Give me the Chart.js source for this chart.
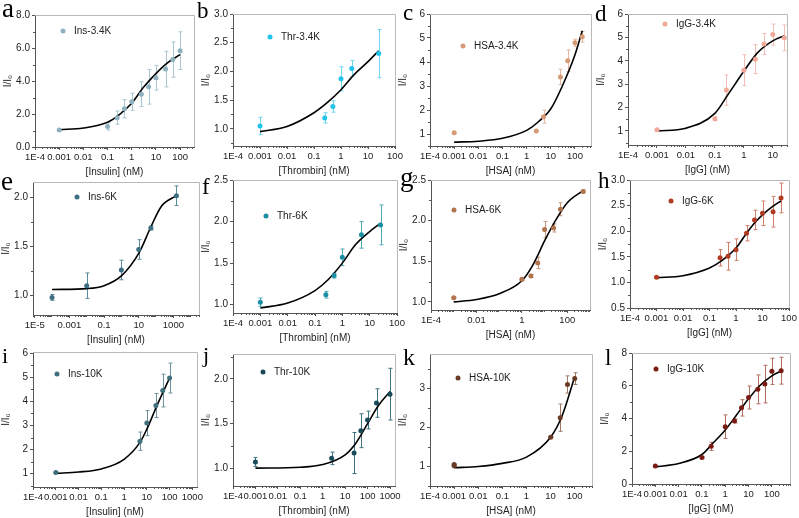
<!DOCTYPE html>
<html>
<head>
<meta charset="utf-8">
<script src="https://cdn.jsdelivr.net/npm/chart.js@4.4.1/dist/chart.umd.min.js"></script>
<style>
  body { margin: 0; background: #fff; width: 799px; height: 518px; position: relative; overflow: hidden; }
  canvas { position: absolute; }
  .tag { position: absolute; font-family: "Liberation Serif", "Times New Roman", serif; line-height: 1; color: #000; }
</style>
</head>
<body>
<script>
// ---- tick labels ----
const xTicksStd = [1e-4, 1e-3, 1e-2, 0.1, 1, 10, 100];
const xLabelsStd = ['1E-4', '0.001', '0.01', '0.1', '1', '10', '100'];
const xTicksWide = [1e-4, 1e-3, 1e-2, 0.1, 1, 10, 100, 1000];
const xLabelsWide = ['1E-4', '0.001', '0.01', '0.1', '1', '10', '100', '1000'];
const xTicksE = [1e-5, 1e-3, 0.1, 10, 1000];
const xLabelsE = ['1E-5', '0.001', '0.1', '10', '1000'];
const xTicksG = [1e-4, 0.01, 1, 100];
const xLabelsG = ['1E-4', '0.01', '1', '100'];

const yTicksEight = [0, 2, 4, 6, 8];
const yTicksB = [1.0, 1.5, 2.0, 2.5, 3.0];
const yTicksSix = [1, 2, 3, 4, 5, 6];
const yTicksE = [1.0, 1.5, 2.0];
const yTicksF = [1.0, 1.5, 2.0, 2.5];
const yTicksH = [0.5, 1.0, 1.5, 2.0, 2.5, 3.0];
const yTicksK = [1, 2, 3];

// ---- data: concentration (nM), I/I0, error, and fitted curve ----
const aConc = [0.001, 0.1, 0.25, 0.5, 1, 2.5, 5, 10, 25, 50, 100];
const aRatio = [1.03, 1.25, 1.78, 2.32, 2.74, 3.2, 3.65, 4.2, 4.72, 5.3, 5.84];
const aErr = [0.03, 0.22, 0.4, 0.55, 0.52, 0.75, 1.05, 0.75, 1.08, 1.07, 1.14];
const aFitConc = [0.001, 0.01, 0.1, 0.3, 1, 3, 10, 30, 100];
const aFitRatio = [1.05, 1.15, 1.5, 1.95, 2.65, 3.6, 4.45, 5.1, 5.6];

const bConc = [0.001, 0.25, 0.5, 1, 2.5, 25];
const bRatio = [1.05, 1.19, 1.39, 1.87, 2.05, 2.31];
const bErr = [0.15, 0.09, 0.1, 0.21, 0.14, 0.42];
const bFitConc = [0.001, 0.01, 0.1, 0.3, 1, 3, 10, 25];
const bFitRatio = [0.95, 1.04, 1.28, 1.45, 1.68, 1.94, 2.17, 2.36];

const cConc = [0.001, 2.5, 5, 25, 50, 100, 200];
const cRatio = [1.05, 1.12, 1.72, 3.38, 4.05, 4.8, 5.05];
const cErr = [0.02, 0.03, 0.27, 0.32, 0.45, 0.15, 0.22];
const cFitConc = [0.001, 0.01, 0.1, 1, 3, 10, 30, 100, 200];
const cFitRatio = [0.66, 0.7, 0.82, 1.15, 1.5, 2.05, 3.0, 4.3, 5.3];

const dConc = [0.001, 0.1, 0.25, 1, 2.5, 5, 10, 25];
const dRatio = [1.05, 1.52, 2.75, 3.6, 4.07, 4.72, 5.12, 4.98];
const dErr = [0.03, 0.08, 0.65, 0.66, 0.62, 0.45, 0.45, 0.55];
const dFitConc = [0.001, 0.01, 0.1, 0.3, 1, 3, 10, 25];
const dFitRatio = [1.0, 1.12, 1.75, 2.6, 3.55, 4.35, 4.85, 5.07];

const eConc = [1e-4, 0.01, 1, 10, 50, 1500];
const eRatio = [0.98, 1.1, 1.26, 1.47, 1.69, 2.02];
const eErr = [0.03, 0.13, 0.1, 0.1, 0.02, 0.1];
const eFitConc = [1e-4, 0.01, 0.1, 1, 10, 50, 200, 1500];
const eFitRatio = [1.06, 1.07, 1.1, 1.2, 1.43, 1.7, 1.91, 2.02];

const fConc = [0.001, 0.25, 0.5, 1, 5, 25];
const fRatio = [1.03, 1.12, 1.35, 1.57, 1.84, 1.96];
const fErr = [0.05, 0.04, 0.03, 0.1, 0.16, 0.24];
const fFitConc = [0.001, 0.01, 0.1, 0.3, 1, 3, 10, 25];
const fFitRatio = [0.96, 1.02, 1.17, 1.3, 1.5, 1.72, 1.88, 1.98];

const gConc = [0.001, 1, 2.5, 5, 10, 25, 50, 500];
const gRatio = [1.05, 1.28, 1.32, 1.48, 1.89, 1.91, 2.14, 2.36];
const gErr = [0.01, 0.02, 0.02, 0.07, 0.1, 0.05, 0.08, 0.02];
const gFitConc = [0.001, 0.01, 0.1, 1, 3, 10, 30, 100, 500];
const gFitRatio = [1.0, 1.03, 1.1, 1.26, 1.45, 1.75, 2.0, 2.22, 2.37];

const hConc = [0.001, 0.25, 0.5, 1, 2.5, 5, 10, 25, 50];
const hRatio = [1.1, 1.48, 1.51, 1.64, 1.96, 2.22, 2.35, 2.38, 2.65];
const hErr = [0.01, 0.16, 0.27, 0.21, 0.15, 0.19, 0.24, 0.3, 0.29];
const hFitConc = [0.001, 0.01, 0.1, 0.3, 1, 2.5, 5, 10, 25, 50];
const hFitRatio = [1.09, 1.13, 1.28, 1.43, 1.67, 1.96, 2.16, 2.32, 2.49, 2.59];

const iConc = [0.001, 5, 10, 25, 50, 100];
const iRatio = [1.05, 2.35, 3.1, 3.83, 4.45, 4.97];
const iErr = [0.02, 0.38, 0.52, 0.5, 0.68, 0.62];
const iFitConc = [0.001, 0.01, 0.1, 1, 5, 10, 30, 100];
const iFitRatio = [1.02, 1.07, 1.2, 1.6, 2.3, 2.85, 3.9, 4.97];

const jConc = [0.001, 2.5, 25, 50, 100, 250, 1000];
const jRatio = [1.07, 1.11, 1.17, 1.42, 1.54, 1.73, 1.83];
const jErr = [0.05, 0.07, 0.23, 0.19, 0.1, 0.16, 0.29];
const jFitConc = [0.001, 0.1, 1, 10, 30, 100, 300, 1000];
const jFitRatio = [1.0, 1.01, 1.04, 1.15, 1.28, 1.5, 1.7, 1.86];

const kConc = [0.001, 0.001, 10, 25, 50, 100];
const kRatio = [1.02, 1.05, 1.75, 2.25, 3.1, 3.25];
const kErr = [0.02, 0.02, 0.02, 0.35, 0.22, 0.15];
const kFitConc = [0.001, 0.01, 0.1, 1, 10, 30, 100];
const kFitRatio = [0.97, 1.0, 1.08, 1.24, 1.75, 2.3, 3.3];

const lConc = [0.001, 0.1, 0.25, 1, 2.5, 5, 10, 25, 50, 100, 250];
const lRatio = [1.1, 1.62, 2.3, 3.5, 3.85, 4.65, 5.28, 5.78, 6.1, 6.88, 6.92];
const lErr = [0.02, 0.05, 0.25, 0.72, 0.12, 0.5, 0.7, 0.88, 1.15, 0.8, 0.82];
const lFitConc = [0.001, 0.01, 0.1, 0.3, 1, 3, 10, 30, 100, 250];
const lFitRatio = [1.05, 1.25, 1.8, 2.5, 3.3, 4.2, 5.2, 6.0, 6.6, 6.9];

// ---- panel setup ----
const Y_AXIS_W = 35, X_AXIS_H = 34, PAD_T = 8, PAD_R = 12;
const FONT = '"Liberation Sans", Arial, sans-serif';

const panels = [
  { tag: 'a', tagPos: [2, 18, 27], frame: [35, 15, 194, 147], name: 'Ins-3.4K', legend: [28, 16],
    conc: aConc, ratio: aRatio, err: aErr, fitConc: aFitConc, fitRatio: aFitRatio,
    xMin: 1e-4, xMax: 376, xTicks: xTicksStd, xLabels: xLabelsStd, xTitle: '[Insulin] (nM)',
    yMin: 0, yMax: 8, yTicks: yTicksEight, yDec: 1, color: '#8fb0bf', errColor: '#a9c6d2' },
  { tag: 'b', tagPos: [197, 18, 23], frame: [233, 14, 395, 146], name: 'Thr-3.4K', legend: [37, 23],
    conc: bConc, ratio: bRatio, err: bErr, fitConc: bFitConc, fitRatio: bFitRatio,
    xMin: 1e-4, xMax: 100, xTicks: xTicksStd, xLabels: xLabelsStd, xTitle: '[Thrombin] (nM)',
    yMin: 0.7, yMax: 3.0, yTicks: yTicksB, yDec: 1, color: '#22c4ea', errColor: '#6dd8f0' },
  { tag: 'c', tagPos: [403, 20, 23], frame: [430, 14, 591, 146], name: 'HSA-3.4K', legend: [33, 32],
    conc: cConc, ratio: cRatio, err: cErr, fitConc: cFitConc, fitRatio: cFitRatio,
    xMin: 1e-4, xMax: 460, xTicks: xTicksStd, xLabels: xLabelsStd, xTitle: '[HSA] (nM)',
    yMin: 0.5, yMax: 6, yTicks: yTicksSix, yDec: 0, color: '#d69a76', errColor: '#e2b8a0' },
  { tag: 'd', tagPos: [595, 21, 23], frame: [628, 14, 787, 145], name: 'IgG-3.4K', legend: [37, 10],
    conc: dConc, ratio: dRatio, err: dErr, fitConc: dFitConc, fitRatio: dFitRatio,
    xMin: 1e-4, xMax: 31, xTicks: xTicksStd, xLabels: xLabelsStd, xTitle: '[IgG] (nM)',
    yMin: 0.4, yMax: 6, yTicks: yTicksSix, yDec: 0, color: '#f0a898', errColor: '#f2beb5' },
  { tag: 'e', tagPos: [1, 191, 27], frame: [33, 182, 199, 315], name: 'Ins-6K', legend: [44, 15],
    conc: eConc, ratio: eRatio, err: eErr, fitConc: eFitConc, fitRatio: eFitRatio,
    xMin: 8e-6, xMax: 3e4, xTicks: xTicksE, xLabels: xLabelsE, xTitle: '[Insulin] (nM)',
    yMin: 0.8, yMax: 2.16, yTicks: yTicksE, yDec: 1, color: '#3b6e80', errColor: '#5b8c9c' },
  { tag: 'f', tagPos: [202, 194, 23], frame: [233, 180, 397, 313], name: 'Thr-6K', legend: [33, 36],
    conc: fConc, ratio: fRatio, err: fErr, fitConc: fFitConc, fitRatio: fFitRatio,
    xMin: 1e-4, xMax: 100, xTicks: xTicksStd, xLabels: xLabelsStd, xTitle: '[Thrombin] (nM)',
    yMin: 0.9, yMax: 2.5, yTicks: yTicksF, yDec: 1, color: '#1a8ea2', errColor: '#4fa9b8' },
  { tag: 'g', tagPos: [400, 187, 27], frame: [431, 180, 590, 310], name: 'HSA-6K', legend: [23, 30],
    conc: gConc, ratio: gRatio, err: gErr, fitConc: gFitConc, fitRatio: gFitRatio,
    xMin: 1e-4, xMax: 1000, xTicks: xTicksG, xLabels: xLabelsG, xTitle: '[HSA] (nM)',
    yMin: 0.9, yMax: 2.5, yTicks: yTicksF, yDec: 1, color: '#b0744e', errColor: '#c9987a' },
  { tag: 'h', tagPos: [598, 188, 23], frame: [630, 180, 789, 308], name: 'IgG-6K', legend: [41, 21],
    conc: hConc, ratio: hRatio, err: hErr, fitConc: hFitConc, fitRatio: hFitRatio,
    xMin: 1e-4, xMax: 100, xTicks: xTicksStd, xLabels: xLabelsStd, xTitle: '[IgG] (nM)',
    yMin: 0.5, yMax: 3.0, yTicks: yTicksH, yDec: 1, color: '#b03a22', errColor: '#cf7f6a' },
  { tag: 'i', tagPos: [2, 363, 22], frame: [33, 352, 197, 487], name: 'Ins-10K', legend: [24, 22],
    conc: iConc, ratio: iRatio, err: iErr, fitConc: iFitConc, fitRatio: iFitRatio,
    xMin: 1e-4, xMax: 1600, xTicks: xTicksWide, xLabels: xLabelsWide, xTitle: '[Insulin] (nM)',
    yMin: 0.45, yMax: 6.05, yTicks: yTicksSix, yDec: 0, color: '#3f6e7c', errColor: '#6d929e' },
  { tag: 'j', tagPos: [203, 362, 22], frame: [233, 354, 395, 486], name: 'Thr-10K', legend: [30, 18],
    conc: jConc, ratio: jRatio, err: jErr, fitConc: jFitConc, fitRatio: jFitRatio,
    xMin: 1e-4, xMax: 1670, xTicks: xTicksWide, xLabels: xLabelsWide, xTitle: '[Thrombin] (nM)',
    yMin: 0.8, yMax: 2.28, yTicks: yTicksE, yDec: 1, color: '#184a58', errColor: '#3f7282' },
  { tag: 'k', tagPos: [403, 365, 24], frame: [430, 354, 592, 486], name: 'HSA-10K', legend: [28, 24],
    conc: kConc, ratio: kRatio, err: kErr, fitConc: kFitConc, fitRatio: kFitRatio,
    xMin: 1e-4, xMax: 520, xTicks: xTicksStd, xLabels: xLabelsStd, xTitle: '[HSA] (nM)',
    yMin: 0.5, yMax: 3.88, yTicks: yTicksK, yDec: 0, color: '#6a3a26', errColor: '#a07a66' },
  { tag: 'l', tagPos: [605, 365, 23], frame: [632, 353, 790, 484], name: 'IgG-10K', legend: [24, 16],
    conc: lConc, ratio: lRatio, err: lErr, fitConc: lFitConc, fitRatio: lFitRatio,
    xMin: 1e-4, xMax: 600, xTicks: xTicksStd, xLabels: xLabelsStd, xTitle: '[IgG] (nM)',
    yMin: 0, yMax: 8, yTicks: yTicksEight, yDec: 0, color: '#7a1a14', errColor: '#b27060' }
];

// draws vertical error bars under the points
function errorBarPlugin(p) {
  return {
    id: 'errorBars',
    beforeDatasetsDraw(chart) {
      const { ctx, scales: { x, y } } = chart;
      ctx.save();
      ctx.strokeStyle = p.errColor;
      ctx.lineWidth = 1;
      ctx.beginPath();
      p.conc.forEach((c, i) => {
        const e = p.err[i];
        if (!e) return;
        const px = Math.round(x.getPixelForValue(c)) + 0.5;
        const top = y.getPixelForValue(p.ratio[i] + e);
        const bot = y.getPixelForValue(p.ratio[i] - e);
        ctx.moveTo(px, top); ctx.lineTo(px, bot);
        ctx.moveTo(px - 2, top); ctx.lineTo(px + 2, top);
        ctx.moveTo(px - 2, bot); ctx.lineTo(px + 2, bot);
      });
      ctx.stroke();
      ctx.restore();
    }
  };
}

// box frame, minor ticks and in-plot legend
function decorPlugin(p) {
  return {
    id: 'decor',
    afterDraw(chart) {
      const { ctx, chartArea: a, scales: { x, y } } = chart;
      ctx.save();
      ctx.lineWidth = 1;
      ctx.strokeStyle = '#b8b8b8';
      ctx.beginPath();
      ctx.moveTo(a.left, a.top + 0.5); ctx.lineTo(a.right + 0.5, a.top + 0.5);
      ctx.lineTo(a.right + 0.5, a.bottom);
      ctx.stroke();

      ctx.strokeStyle = '#555';
      ctx.beginPath();
      const lo = Math.floor(Math.log10(x.min)), hi = Math.ceil(Math.log10(x.max));
      for (let ex = lo; ex <= hi; ex++) {
        for (let m = 2; m <= 9; m++) {
          const v = m * Math.pow(10, ex);
          if (v < x.min || v > x.max) continue;
          const px = Math.round(x.getPixelForValue(v)) + 0.5;
          ctx.moveTo(px, a.bottom); ctx.lineTo(px, a.bottom + 2);
        }
      }
      const step = p.yTicks[1] - p.yTicks[0];
      for (let v = p.yTicks[0] - step / 2; v <= p.yMax; v += step) {
        if (v < p.yMin) continue;
        const py = Math.round(y.getPixelForValue(v)) + 0.5;
        ctx.moveTo(a.left - 2, py); ctx.lineTo(a.left, py);
      }
      ctx.stroke();

      const lx = a.left + p.legend[0], ly = a.top + p.legend[1];
      ctx.fillStyle = p.color;
      ctx.beginPath(); ctx.arc(lx, ly, 2.5, 0, Math.PI * 2); ctx.fill();
      ctx.fillStyle = '#222';
      ctx.font = '10px ' + FONT;
      ctx.textBaseline = 'middle';
      ctx.fillText(p.name, lx + 11, ly);
      ctx.restore();
    }
  };
}

function makePanel(p) {
  const [L, T, R, B] = p.frame;
  const canvas = document.createElement('canvas');
  canvas.width = (R - L) + Y_AXIS_W + PAD_R;
  canvas.height = (B - T) + PAD_T + X_AXIS_H;
  canvas.style.left = (L - Y_AXIS_W) + 'px';
  canvas.style.top = (T - PAD_T) + 'px';
  document.body.appendChild(canvas);

  const tag = document.createElement('div');
  tag.className = 'tag';
  tag.textContent = p.tag;
  tag.style.fontSize = p.tagPos[2] + 'px';
  tag.style.left = p.tagPos[0] + 'px';
  tag.style.top = (p.tagPos[1] - 0.8375 * p.tagPos[2]) + 'px';
  document.body.appendChild(tag);

  new Chart(canvas, {
    type: 'scatter',
    data: {
      datasets: [
        { type: 'scatter', data: p.conc.map((c, i) => ({ x: c, y: p.ratio[i] })),
          backgroundColor: p.color, borderColor: p.color, pointRadius: 2.5, pointBorderWidth: 0 },
        { type: 'line', data: p.fitConc.map((c, i) => ({ x: c, y: p.fitRatio[i] })),
          borderColor: '#000', borderWidth: 1.6, pointRadius: 0, fill: false,
          cubicInterpolationMode: 'monotone' }
      ]
    },
    options: {
      responsive: false,
      animation: false,
      devicePixelRatio: 1,
      events: [],
      layout: { padding: { top: PAD_T, right: PAD_R, left: 0, bottom: 0 } },
      plugins: { legend: { display: false }, tooltip: { enabled: false } },
      scales: {
        x: {
          type: 'logarithmic', min: p.xMin, max: p.xMax,
          afterBuildTicks: s => {
            s.ticks = p.xTicks.filter(v => v >= p.xMin * 0.999 && v <= p.xMax * 1.001).map(v => ({ value: v }));
          },
          afterFit: s => { s.height = X_AXIS_H; s.paddingLeft = 0; s.paddingRight = 0; },
          ticks: {
            autoSkip: false, maxRotation: 0, minRotation: 0, padding: 2, color: '#222',
            font: { family: FONT, size: 9.5 },
            callback: v => p.xLabels[p.xTicks.findIndex(t => Math.abs(t - v) / t < 1e-6)]
          },
          grid: { drawOnChartArea: false, drawTicks: true, tickLength: 3, color: '#555' },
          border: { display: true, color: '#555', width: 1 },
          title: { display: true, text: p.xTitle, color: '#222', font: { family: FONT, size: 10 },
                   padding: { top: 2, bottom: 3 } }
        },
        y: {
          type: 'linear', min: p.yMin, max: p.yMax,
          afterBuildTicks: s => { s.ticks = p.yTicks.map(v => ({ value: v })); },
          afterFit: s => { s.width = Y_AXIS_W; s.paddingTop = 0; s.paddingBottom = 0; },
          ticks: { padding: 2, color: '#222', font: { family: FONT, size: 10 },
                   callback: v => v.toFixed(p.yDec) },
          grid: { drawOnChartArea: false, drawTicks: true, tickLength: 3, color: '#555' },
          border: { display: true, color: '#555', width: 1 },
          title: { display: true, text: 'I/I\u2080', color: '#222', font: { family: FONT, size: 10 },
                   padding: { top: 2, bottom: 2 } }
        }
      }
    },
    plugins: [errorBarPlugin(p), decorPlugin(p)]
  });
}

panels.forEach(makePanel);
</script>
</body>
</html>
